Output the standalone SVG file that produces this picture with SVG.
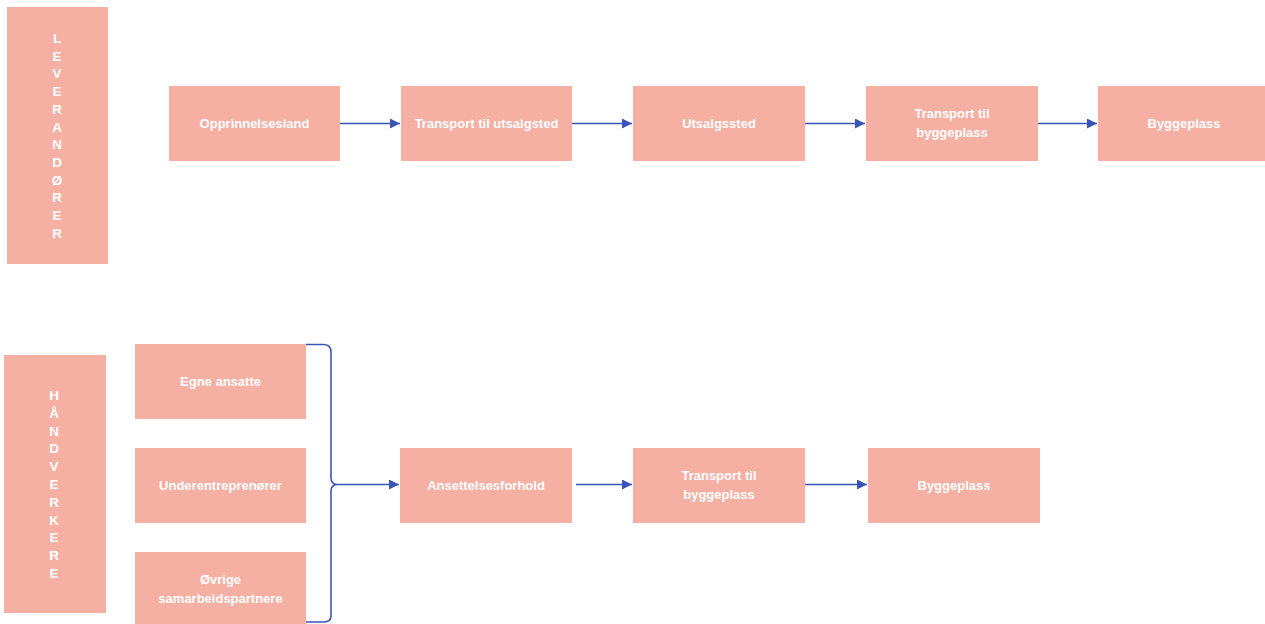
<svg xmlns="http://www.w3.org/2000/svg" width="1265" height="624" viewBox="0 0 1265 624">
<style>
.box{fill:#F5AFA3}
.t{font-family:"Liberation Sans",Arial,sans-serif;font-size:13px;font-weight:bold;fill:#ffffff;text-anchor:middle}
.v{font-family:"Liberation Sans",Arial,sans-serif;font-size:13.5px;font-weight:bold;fill:#ffffff;text-anchor:middle}
.c{fill:none;stroke:#3A55B8;stroke-width:1.6}
</style>
<defs>
<marker id="ah" viewBox="0 0 10 10" refX="10" refY="5" markerWidth="10" markerHeight="10" markerUnits="userSpaceOnUse" orient="auto">
<path d="M0,0 L10,5 L0,10 z" fill="#3A55B8"/>
</marker>
</defs>
<rect width="1265" height="624" fill="#ffffff"/>
<g id="leverandorer">
<rect class="box" x="7" y="7" width="101" height="257"/>
<text class="v" x="57" y="43">L</text>
<text class="v" x="57" y="60.7">E</text>
<text class="v" x="57" y="78.4">V</text>
<text class="v" x="57" y="96.1">E</text>
<text class="v" x="57" y="113.8">R</text>
<text class="v" x="57" y="131.5">A</text>
<text class="v" x="57" y="149.2">N</text>
<text class="v" x="57" y="166.9">D</text>
<text class="v" x="57" y="184.6">Ø</text>
<text class="v" x="57" y="202.3">R</text>
<text class="v" x="57" y="220">E</text>
<text class="v" x="57" y="237.7">R</text>
</g>
<g id="opprinnelsesland"><rect class="box" x="169" y="86" width="171" height="75"/><text class="t" x="254.5" y="128">Opprinnelsesland</text></g>
<g id="transport-utsalgsted"><rect class="box" x="401" y="86" width="171" height="75"/><text class="t" x="486.5" y="128">Transport til utsalgsted</text></g>
<g id="utsalgssted"><rect class="box" x="633" y="86" width="172" height="75"/><text class="t" x="719" y="128">Utsalgssted</text></g>
<g id="transport-byggeplass-1"><rect class="box" x="866" y="86" width="172" height="75"/><text class="t" x="952" y="118">Transport til</text><text class="t" x="952" y="137">byggeplass</text></g>
<g id="byggeplass-1"><rect class="box" x="1098" y="86" width="167" height="75"/><text class="t" x="1184" y="128">Byggeplass</text></g>
<g id="handverkere">
<rect class="box" x="4" y="355" width="102" height="258"/>
<text class="v" x="54" y="400">H</text>
<text class="v" x="54" y="417.8">Å</text>
<text class="v" x="54" y="435.6">N</text>
<text class="v" x="54" y="453.4">D</text>
<text class="v" x="54" y="471.2">V</text>
<text class="v" x="54" y="489">E</text>
<text class="v" x="54" y="506.8">R</text>
<text class="v" x="54" y="524.6">K</text>
<text class="v" x="54" y="542.4">E</text>
<text class="v" x="54" y="560.2">R</text>
<text class="v" x="54" y="578">E</text>
</g>
<g id="egne-ansatte"><rect class="box" x="135" y="344" width="171" height="75"/><text class="t" x="220.5" y="386">Egne ansatte</text></g>
<g id="underentreprenorer"><rect class="box" x="135" y="448" width="171" height="75"/><text class="t" x="220.5" y="490">Underentreprenører</text></g>
<g id="ovrige"><rect class="box" x="135" y="552" width="171" height="72"/><text class="t" x="220.5" y="584">Øvrige</text><text class="t" x="220.5" y="603">samarbeidspartnere</text></g>
<g id="ansettelsesforhold"><rect class="box" x="400" y="448" width="172" height="75"/><text class="t" x="486" y="490">Ansettelsesforhold</text></g>
<g id="transport-byggeplass-2"><rect class="box" x="633" y="448" width="172" height="75"/><text class="t" x="719" y="480">Transport til</text><text class="t" x="719" y="499">byggeplass</text></g>
<g id="byggeplass-2"><rect class="box" x="868" y="448" width="172" height="75"/><text class="t" x="954" y="490">Byggeplass</text></g>
<g id="connectors">
<line class="c" x1="340" y1="123.5" x2="400" y2="123.5" marker-end="url(#ah)"/>
<line class="c" x1="572" y1="123.5" x2="632" y2="123.5" marker-end="url(#ah)"/>
<line class="c" x1="805" y1="123.5" x2="865" y2="123.5" marker-end="url(#ah)"/>
<line class="c" x1="1038" y1="123.5" x2="1097" y2="123.5" marker-end="url(#ah)"/>
<path class="c" d="M306,344.5 L324,344.5 Q331,345 331,352 L331,478 Q331,484 337,484.5 Q331,485 331,491 L331,616 Q331,622 324,622 L306,622"/>
<line class="c" x1="337" y1="484.5" x2="399" y2="484.5" marker-end="url(#ah)"/>
<line class="c" x1="576" y1="484.5" x2="632" y2="484.5" marker-end="url(#ah)"/>
<line class="c" x1="805" y1="484.5" x2="867" y2="484.5" marker-end="url(#ah)"/>
</g>
</svg>
